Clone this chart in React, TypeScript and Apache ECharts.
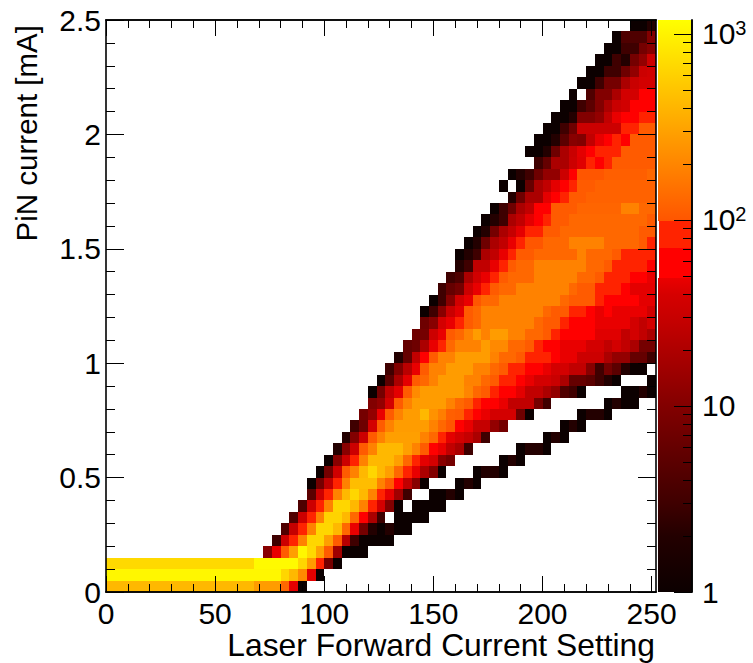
import React, { useEffect, useRef } from "react";
import * as echarts from "echarts";

const xMax = 252;
const yMax = 2.5;
const binW = 4;
const binH = 0.05;
const zMax = 1189;
const xTitle = "Laser Forward Current Setting";
const yTitle = "PiN current [mA]";
const FONT = '"Liberation Sans", Arial, sans-serif';
const xMajor = [0, 50, 100, 150, 200, 250];
const xMinor = [10, 20, 30, 40, 60, 70, 80, 90, 110, 120, 130, 140, 160, 170, 180, 190, 210, 220, 230, 240];

// each row: first column index, then the counts from that column on (0 = empty bin)
const row00 = [0, 420,420,420,420,420,420,420,420,420,420,420,420,420,420,420,420,420, 280,280,280, 130, 46, 1];
const row01 = [0, 1050,1050,1050,1050,1050,1050,1050,1050,1050,1050,1050,1050,1050,1050,1050,1050,1050,1050,1050,1050, 650, 420, 210, 46, 1];
const row02 = [0, 680,680,680,680,680,680,680,680,680,680,680,680,680,680,680,680,680, 1100,1100,1100,1100,1100, 650, 280, 85, 8, 1];
const row03 = [18, 11, 48, 108, 290, 1050, 680, 300, 108, 16, 1, 1, 1];
const row04 = [19, 3, 33, 85, 190, 650, 650, 290, 108, 23, 3, 1, 1, 1, 1];
const row05 = [20, 4, 29, 85, 190, 650, 650, 420, 130, 48, 8, 2, 1, 2, 1, 1];
const row06 = [21, 4, 33, 85, 190, 620, 620, 420, 130, 60, 19, 3, 0, 1, 1, 1, 1];
const row07 = [22, 4, 33, 85, 190, 650, 650, 420, 190, 85, 38, 10, 1, 0, 1, 1, 1, 1];
const row08 = [23, 5, 33, 85, 190, 420, 650, 420, 190, 85, 46, 16, 3, 0, 0, 1, 1, 2, 1];
const row09 = [23, 1, 8, 27, 85, 190, 450, 450, 450, 190, 108, 60, 27, 11, 1, 0, 0, 0, 1, 2, 1];
const row10 = [24, 1, 8, 35, 108, 190, 420, 650, 420, 290, 130, 85, 48, 19, 10, 1, 0, 0, 0, 1, 2, 2, 1];
const row11 = [25, 1, 11, 33, 85, 190, 420, 420, 420, 290, 130, 85, 46, 38, 11, 8, 0, 0, 0, 0, 0, 1, 2, 1];
const row12 = [26, 2, 11, 33, 108, 190, 420, 420, 420, 290, 190, 108, 60, 48, 27, 19, 3, 0, 0, 0, 0, 0, 1, 2, 2, 1];
const row13 = [27, 2, 10, 33, 108, 190, 290, 290, 290, 290, 190, 130, 85, 46, 38, 29, 19, 3, 0, 0, 0, 0, 0, 0, 1, 2, 1];
const row14 = [28, 3, 7, 38, 108, 190, 280, 280, 280, 280, 190, 130, 100, 60, 48, 29, 29, 13, 8, 0, 0, 0, 0, 0, 0, 1, 2, 1];
const row15 = [29, 8, 13, 48, 108, 190, 280, 280, 420, 240, 180, 115, 108, 85, 60, 48, 38, 38, 38, 7, 1, 0, 0, 0, 0, 0, 1, 2, 2, 1];
const row16 = [30, 10, 13, 38, 108, 190, 280, 280, 280, 280, 190, 130, 108, 85, 60, 60, 48, 27, 27, 27, 8, 3, 0, 0, 0, 0, 0, 0, 1, 2, 1, 1];
const row17 = [30, 1, 8, 27, 46, 108, 215, 280, 280, 280, 280, 280, 200, 130, 108, 85, 60, 60, 46, 27, 27, 19, 13, 4, 3, 1, 0, 0, 0, 0, 1, 1, 2, 1];
const row18 = [31, 1, 5, 19, 46, 108, 130, 190, 280, 280, 280, 190, 190, 130, 108, 85, 85, 60, 48, 38, 38, 31, 19, 6, 6, 5, 3, 2, 1, 0, 0, 0, 1];
const row19 = [32, 3, 10, 24, 48, 108, 190, 190, 280, 280, 280, 190, 190, 130, 108, 85, 85, 60, 60, 48, 38, 38, 27, 27, 11, 3, 8, 5, 2, 1, 1];
const row20 = [33, 2, 6, 27, 60, 108, 190, 190, 280, 280, 280, 280, 190, 130, 130, 108, 85, 85, 85, 60, 48, 48, 33, 33, 33, 19, 13, 13, 6, 6, 3];
const row21 = [34, 6, 7, 19, 48, 85, 130, 190, 190, 190, 280, 210, 210, 130, 130, 108, 85, 60, 60, 48, 48, 48, 38, 38, 27, 38, 27, 19, 8, 8];
const row22 = [35, 7, 8, 33, 48, 108, 130, 190, 280, 190, 280, 280, 190, 190, 130, 130, 108, 85, 60, 60, 60, 60, 44, 44, 44, 27, 38, 27, 19];
const row23 = [36, 7, 11, 38, 48, 85, 108, 130, 190, 190, 190, 190, 190, 190, 130, 108, 108, 85, 60, 60, 60, 48, 48, 48, 48, 38, 27, 38];
const row24 = [36, 1, 3, 11, 31, 46, 108, 130, 190, 190, 190, 190, 190, 190, 190, 130, 108, 108, 85, 85, 60, 48, 60, 48, 48, 48, 48, 36];
const row25 = [37, 1, 3, 11, 36, 48, 100, 130, 130, 190, 190, 190, 190, 190, 190, 190, 130, 108, 108, 108, 85, 60, 60, 60, 60, 46, 46];
const row26 = [38, 3, 6, 8, 33, 48, 85, 108, 130, 130, 190, 190, 190, 190, 190, 190, 130, 108, 108, 85, 85, 85, 60, 46, 46, 46];
const row27 = [39, 3, 4, 19, 36, 48, 85, 108, 130, 130, 130, 190, 190, 190, 190, 190, 130, 130, 108, 85, 85, 85, 60, 60, 48];
const row28 = [40, 2, 3, 27, 27, 48, 85, 108, 130, 130, 190, 190, 190, 190, 190, 190, 130, 130, 108, 85, 85, 85, 85, 60];
const row29 = [40, 1, 2, 3, 19, 27, 48, 85, 108, 108, 130, 130, 130, 130, 130, 190, 130, 130, 130, 108, 85, 85, 85, 85];
const row30 = [41, 1, 2, 7, 19, 27, 48, 85, 100, 100, 130, 130, 130, 190, 190, 190, 190, 130, 130, 130, 130, 108, 85];
const row31 = [42, 1, 2, 8, 19, 29, 46, 85, 85, 108, 108, 130, 130, 130, 130, 130, 130, 130, 130, 130, 108, 108];
const row32 = [43, 1, 2, 3, 19, 27, 46, 60, 85, 108, 108, 130, 130, 130, 130, 130, 130, 130, 130, 130, 108];
const row33 = [44, 1, 3, 7, 19, 27, 60, 60, 108, 108, 108, 125, 125, 125, 125, 125, 190, 190, 130, 130];
const row34 = [46, 2, 7, 19, 19, 46, 60, 85, 108, 108, 120, 120, 120, 120, 120, 120, 120, 120];
const row35 = [45, 1, 0, 1, 6, 19, 27, 46, 60, 85, 108, 108, 120, 120, 120, 120, 120, 120, 120];
const row36 = [46, 1, 2, 3, 7, 13, 13, 33, 60, 100, 100, 100, 115, 115, 115, 115, 115, 130];
const row37 = [49, 3, 6, 19, 19, 33, 44, 90, 60, 90, 108, 108, 108, 108, 108];
const row38 = [48, 1, 1, 2, 7, 19, 31, 46, 60, 85, 85, 85, 108, 108, 108, 108];
const row39 = [49, 1, 1, 2, 5, 11, 10, 27, 48, 60, 85, 60, 108, 108, 108];
const row40 = [50, 1, 1, 3, 7, 33, 33, 33, 33, 33, 85, 85, 108, 108];
const row41 = [51, 1, 1, 2, 10, 10, 13, 27, 48, 60, 60, 85, 85];
const row42 = [52, 1, 1, 3, 5, 10, 19, 31, 36, 60, 60, 60];
const row43 = [53, 1, 0, 4, 10, 10, 19, 38, 38, 60, 60];
const row44 = [54, 1, 1, 3, 8, 8, 19, 31, 38, 38];
const row45 = [55, 1, 1, 3, 3, 7, 13, 33, 36];
const row46 = [56, 1, 1, 3, 2, 8, 13, 33];
const row47 = [57, 1, 1, 3, 3, 8, 11];
const row48 = [58, 1, 4, 4, 4, 10];
const row49 = [60, 1, 1, 2];

const rows = [
  row00, row01, row02, row03, row04, row05, row06, row07, row08, row09,
  row10, row11, row12, row13, row14, row15, row16, row17, row18, row19,
  row20, row21, row22, row23, row24, row25, row26, row27, row28, row29,
  row30, row31, row32, row33, row34, row35, row36, row37, row38, row39,
  row40, row41, row42, row43, row44, row45, row46, row47, row48, row49,
];

// palette: dark reds, two flat bands, then red-orange to yellow
const darkValues = [1, 2, 3, 5, 7, 10, 15, 20, 30, 40, 49];
const darkReds = [12, 35, 63, 91, 110, 130, 156, 174, 199, 214, 235];
const bandLimits = [49, 71, 99];
const bandGreens = [0, 35];
const warmValues = [99, 123, 190, 276, 365, 425, 660, 1100, 1189];
const warmGreens = [85, 100, 130, 155, 175, 185, 215, 250, 255];
const majorTicks = [1, 10, 100, 1000];
const minorTicks = [2, 3, 4, 5, 6, 7, 8, 9, 20, 30, 40, 50, 60, 70, 80, 90, 200, 300, 400, 500, 600, 700, 800, 900];
const barSegments = [[1, 49], [49, 71], [71, 99], [99, zMax]];

function interp(v: number, xs: number[], ys: number[]) {
  const lv = Math.log10(v);
  for (let k = 1; k < xs.length; k++) {
    if (v <= xs[k]) {
      const a = Math.log10(xs[k - 1]);
      const b = Math.log10(xs[k]);
      return ys[k - 1] + ((lv - a) / (b - a)) * (ys[k] - ys[k - 1]);
    }
  }
  return ys[ys.length - 1];
}

function colorOf(v: number) {
  if (v < bandLimits[0]) return `rgb(${Math.round(interp(v, darkValues, darkReds))},0,0)`;
  if (v < bandLimits[1]) return `rgb(255,${bandGreens[0]},0)`;
  if (v < bandLimits[2]) return `rgb(255,${bandGreens[1]},0)`;
  return `rgb(255,${Math.round(interp(v, warmValues, warmGreens))},0)`;
}

function segmentFill(lo: number, hi: number) {
  const values = [...darkValues, ...warmValues].filter((v) => v >= lo && v <= hi);
  if (hi - lo < 40) return colorOf(lo);
  const span = Math.log10(hi) - Math.log10(lo);
  return new echarts.graphic.LinearGradient(0, 1, 0, 0, values.map((v) => ({
    offset: (Math.log10(v) - Math.log10(lo)) / span,
    color: hi === 49 && v === 49 ? `rgb(${darkReds[darkReds.length - 1]},0,0)` : colorOf(v),
  })));
}

const cells: number[][] = [];
rows.forEach((row, j) => {
  row.slice(1).forEach((v, k) => {
    if (v > 0) cells.push([row[0] + k, j, v]);
  });
});

function superscript(v: number) {
  if (v === 1) return "{n|1}";
  const e = Math.round(Math.log10(v));
  return e === 1 ? "{n|10}" : `{n|10}{s|${e}}`;
}

const frameLine = { show: true, onZero: false, lineStyle: { color: "#000", width: 1.6 } };

export default function App() {
  const ref = useRef<HTMLDivElement>(null);
  useEffect(() => {
    const chart = echarts.init(ref.current!, null, { renderer: "svg" });
    const mainX = (position: string, ticks: number[], len: number, labelled: boolean) => ({
      type: "value", gridIndex: 0, position, min: 0, max: xMax, z: 5,
      axisLine: frameLine,
      axisTick: { show: true, inside: true, length: len, customValues: ticks, lineStyle: { color: "#000", width: 1 } },
      minorTick: { show: false },
      splitLine: { show: false },
      axisLabel: { show: labelled, customValues: ticks, color: "#000", fontFamily: FONT, fontSize: 30, lineHeight: 24, margin: 9, hideOverlap: false },
      ...(labelled ? {
        name: xTitle, nameLocation: "end", nameGap: -1, nameMoveOverlap: false,
        nameTextStyle: { color: "#000", fontFamily: FONT, fontSize: 31.8, lineHeight: 26, align: "right", verticalAlign: "top", padding: [40, 0, 0, 0] },
      } : {}),
    });
    const mainY = (position: string, labelled: boolean) => ({
      type: "value", gridIndex: 0, position, min: 0, max: yMax, interval: 0.5, z: 5,
      axisLine: frameLine,
      axisTick: { show: true, inside: true, length: 18, lineStyle: { color: "#000", width: 1 } },
      minorTick: { show: true, splitNumber: 5, length: 9, lineStyle: { color: "#000", width: 1 } },
      splitLine: { show: false },
      axisLabel: { show: labelled, color: "#000", fontFamily: FONT, fontSize: 30, margin: 5, showMinLabel: true, showMaxLabel: true, hideOverlap: false },
      ...(labelled ? {
        name: yTitle, nameLocation: "end", nameGap: -5, nameRotate: 90, nameMoveOverlap: false,
        nameTextStyle: { color: "#000", fontFamily: FONT, fontSize: 29.5, align: "right", verticalAlign: "bottom", padding: [0, 0, 65, 0] },
      } : {}),
    });
    const barY = (ticks: number[], len: number, labelled: boolean) => ({
      type: "log", logBase: 10, gridIndex: 1, position: "right", min: 1, max: zMax, z: 5,
      axisLine: frameLine,
      axisTick: { show: true, inside: true, length: len, customValues: ticks, lineStyle: { color: "#000", width: 1 } },
      minorTick: { show: false },
      splitLine: { show: false },
      axisLabel: {
        show: labelled, customValues: ticks, margin: 10, formatter: (v: number) => superscript(v),
        rich: {
          n: { color: "#000", fontFamily: FONT, fontSize: 30 },
          s: { color: "#000", fontFamily: FONT, fontSize: 20, verticalAlign: "top", padding: [0, 0, 12, 0] },
        },
      },
    });
    chart.setOption({
      animation: false,
      backgroundColor: "#fff",
      grid: [
        { left: 106, top: 20, width: 550, height: 572 },
        { left: 658, top: 20, width: 34, height: 572 },
      ],
      xAxis: [
        mainX("bottom", xMajor, 16, true),
        mainX("top", xMajor, 16, false),
        mainX("bottom", xMinor, 8, false),
        mainX("top", xMinor, 8, false),
        { type: "value", gridIndex: 1, min: 0, max: 1, show: false },
      ],
      yAxis: [
        mainY("left", true),
        mainY("right", false),
        barY(majorTicks, 18, true),
        barY(minorTicks, 9, false),
      ],
      series: [
        {
          type: "custom", xAxisIndex: 0, yAxisIndex: 0, z: 1, clip: true,
          data: cells,
          encode: { x: 0, y: 1 },
          renderItem: (_p: any, api: any) => {
            const i = api.value(0);
            const j = api.value(1);
            const a = api.coord([i * binW, j * binH]);
            const b = api.coord([(i + 1) * binW, (j + 1) * binH]);
            const x0 = Math.round(a[0]);
            const y1 = Math.round(b[1]);
            return {
              type: "rect",
              shape: { x: x0, y: y1, width: Math.round(b[0]) - x0, height: Math.round(a[1]) - y1 },
              style: { fill: colorOf(api.value(2)), stroke: null },
            };
          },
        },
        {
          type: "custom", xAxisIndex: 4, yAxisIndex: 2, z: 1,
          data: barSegments,
          encode: { y: 0 },
          renderItem: (_p: any, api: any) => {
            const lo = api.value(0);
            const hi = api.value(1);
            const a = api.coord([lo < 49 || lo >= 99 ? 0 : 0.03, lo]);
            const b = api.coord([1, hi]);
            const y1 = Math.round(b[1]);
            return {
              type: "rect",
              shape: { x: a[0], y: y1, width: b[0] - a[0], height: Math.round(a[1]) - y1 },
              style: { fill: segmentFill(lo, hi), stroke: null },
            };
          },
        },
      ],
    });
    return () => chart.dispose();
  }, []);
  return <div ref={ref} style={{ position: "fixed", left: 0, top: 0, width: 753, height: 663, background: "#fff" }} />;
}
